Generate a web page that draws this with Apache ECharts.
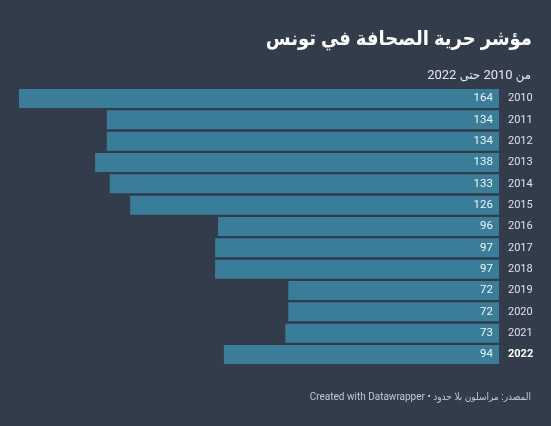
<!DOCTYPE html>
<html>
<head>
<meta charset="utf-8">
<script src="https://cdn.jsdelivr.net/npm/echarts@6/dist/echarts.min.js"></script>
<style>
html,body{margin:0;padding:0;background:#333c4b;}
#c{width:551px;height:426px;}
</style>
</head>
<body>
<div id="c"></div>
<script>
const years = ['2010','2011','2012','2013','2014','2015','2016','2017','2018','2019','2020','2021','2022'];
const values = [164,134,134,138,133,126,96,97,97,72,72,73,94];
const titleText = 'مؤشر حرية الصحافة في تونس';
const subtitleText = 'من 2010 حتى 2022';
const footerText = 'Created with Datawrapper • المصدر: مراسلون بلا حدود';

const FONT = "Roboto, 'DejaVu Sans Condensed', 'DejaVu Sans', sans-serif";
const chart = echarts.init(document.getElementById('c'), null, {renderer:'canvas'});
chart.setOption({
  backgroundColor:'#333c4b',
  animation:false,
  title:[
    {text:titleText, right:14, top:25, textStyle:{color:'#ffffff', fontSize:20, fontWeight:'bold', fontFamily:FONT}},
    {text:subtitleText, right:15, top:64, textStyle:{color:'#e6e8eb', fontSize:13, fontWeight:'normal', fontFamily:FONT}},
    {text:footerText, right:15, top:387, textStyle:{color:'#c3c8cf', fontSize:10, fontWeight:'normal', fontFamily:FONT}}
  ],
  grid:{left:19, right:52, top:87.8, bottom:60.8, containLabel:false},
  xAxis:{type:'value', inverse:true, min:0, max:164, show:false},
  yAxis:{type:'category', data:years, inverse:true, position:'right',
    axisLine:{show:false}, axisTick:{show:false},
    axisLabel:{margin:9, color:'#dfe2e6', fontSize:11, fontFamily:FONT,
      formatter:function(v){return v==='2022' ? '{b|'+v+'}' : v;},
      rich:{b:{fontWeight:'bold', color:'#ffffff', fontSize:11, fontFamily:FONT}}}
  },
  series:[{
    type:'bar', data:values, barWidth:19,
    itemStyle:{color:'#3a7d98'},
    label:{show:true, position:'insideRight', distance:6, color:'#f2f4f6', fontSize:11.5, fontFamily:FONT}
  }]
});
</script>
</body>
</html>
